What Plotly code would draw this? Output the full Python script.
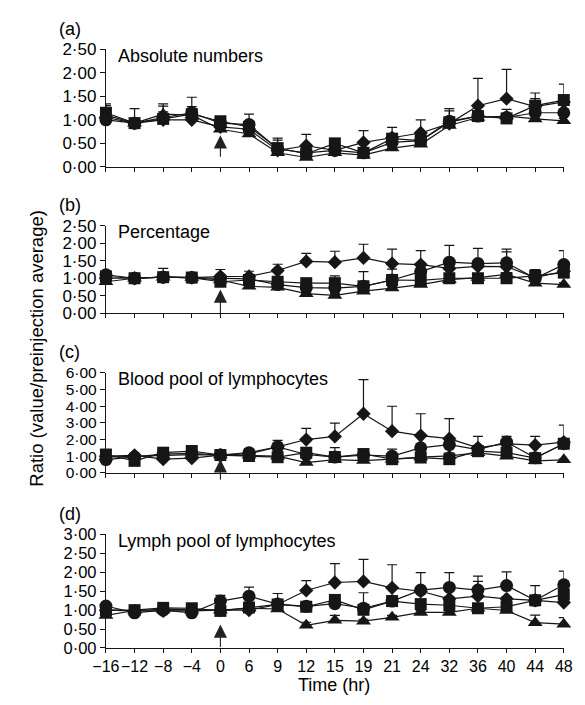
import plotly.graph_objects as go

# ---------------- data ----------------
time_labels = ["\u221216", "\u221212", "\u22128", "\u22124", "0", "6", "9", "12", "15",
               "19", "21", "24", "32", "36", "40", "44", "48"]

# (a) Absolute numbers
a_dia = [1.05, 0.93, 1.00, 1.00, 0.85, 0.80, 0.35, 0.45, 0.35, 0.52, 0.62, 0.72, 0.92, 1.30, 1.45, 1.28, 1.38]
a_sqr = [1.15, 0.93, 1.02, 1.12, 0.97, 0.85, 0.40, 0.28, 0.50, 0.30, 0.60, 0.56, 0.95, 1.08, 1.03, 1.30, 1.42]
a_cir = [1.00, 0.93, 1.05, 1.15, 0.93, 0.90, 0.38, 0.30, 0.35, 0.30, 0.52, 0.56, 0.97, 1.08, 1.05, 1.15, 1.15]
a_tri = [1.10, 0.93, 1.12, 1.10, 0.80, 0.70, 0.30, 0.20, 0.30, 0.25, 0.40, 0.48, 0.88, 1.05, 1.08, 1.02, 0.98]
a_dia_se = [0.25, 0.31, 0.29, 0.48, 0.05, 0.32, 0.22, 0.24, 0.05, 0.25, 0.22, 0.28, 0.27, 0.58, 0.62, 0.17, 0.12]
a_sqr_se = [0.19, 0.05, 0.32, 0.16, 0.05, 0.05, 0.21, 0.05, 0.05, 0.05, 0.05, 0.05, 0.29, 0.05, 0.19, 0.27, 0.34]
a_cir_se = [0.05, 0.05, 0.05, 0.05, 0.05, 0.05, 0.05, 0.05, 0.05, 0.05, 0.05, 0.05, 0.05, 0.05, 0.05, 0.05, 0.05]
a_tri_se = [0.05, 0.05, 0.05, 0.05, 0.05, 0.05, 0.05, 0.05, 0.05, 0.05, 0.05, 0.05, 0.05, 0.05, 0.05, 0.05, 0.05]

# (b) Percentage
b_dia = [1.00, 1.00, 1.03, 1.02, 1.05, 1.05, 1.22, 1.48, 1.46, 1.58, 1.42, 1.39, 1.28, 1.34, 1.33, 1.02, 1.20]
b_sqr = [1.05, 1.00, 1.03, 1.02, 0.90, 0.95, 0.90, 0.86, 0.86, 0.77, 0.95, 0.94, 1.00, 1.00, 1.00, 1.07, 1.16]
b_cir = [1.10, 1.00, 1.03, 1.02, 1.00, 0.98, 0.82, 0.73, 0.72, 0.77, 0.95, 1.19, 1.46, 1.42, 1.44, 1.00, 1.39]
b_tri = [0.90, 1.00, 1.03, 1.02, 0.95, 0.77, 0.74, 0.56, 0.51, 0.63, 0.72, 0.82, 0.96, 1.02, 1.11, 0.86, 0.82]
b_dia_se = [0.05, 0.05, 0.25, 0.05, 0.20, 0.15, 0.18, 0.23, 0.31, 0.39, 0.41, 0.40, 0.05, 0.05, 0.42, 0.05, 0.05]
b_sqr_se = [0.05, 0.05, 0.05, 0.05, 0.05, 0.05, 0.05, 0.05, 0.21, 0.05, 0.05, 0.05, 0.05, 0.05, 0.05, 0.18, 0.05]
b_cir_se = [0.05, 0.05, 0.05, 0.05, 0.05, 0.05, 0.05, 0.05, 0.05, 0.42, 0.31, 0.05, 0.48, 0.43, 0.39, 0.05, 0.40]
b_tri_se = [0.05, 0.05, 0.05, 0.05, 0.05, 0.05, 0.05, 0.05, 0.05, 0.05, 0.05, 0.05, 0.05, 0.05, 0.05, 0.05, 0.05]

# (c) Blood pool of lymphocytes
c_dia = [1.00, 1.05, 0.82, 0.88, 1.07, 1.15, 1.56, 2.00, 2.19, 3.55, 2.50, 2.24, 2.05, 1.50, 1.75, 1.66, 1.85]
c_sqr = [1.10, 0.72, 1.21, 1.31, 1.07, 1.01, 0.94, 1.21, 0.95, 1.13, 0.82, 0.92, 0.82, 1.30, 1.21, 0.88, 1.75]
c_cir = [0.80, 0.95, 1.12, 1.17, 1.07, 1.21, 1.56, 1.10, 0.95, 1.07, 1.00, 1.50, 1.70, 1.40, 1.85, 0.90, 1.75]
c_tri = [0.95, 1.00, 1.05, 1.10, 1.07, 1.05, 1.00, 0.62, 0.80, 0.74, 0.82, 0.95, 1.02, 1.20, 1.00, 0.72, 0.78]
c_dia_se = [0.05, 0.05, 0.05, 0.05, 0.05, 0.05, 0.39, 0.67, 0.79, 2.05, 1.50, 1.31, 1.21, 0.05, 0.05, 0.53, 1.02]
c_sqr_se = [0.05, 0.05, 0.05, 0.05, 0.05, 0.05, 0.05, 0.05, 0.05, 0.05, 0.05, 0.05, 0.05, 0.05, 0.05, 0.05, 0.05]
c_cir_se = [0.05, 0.05, 0.05, 0.05, 0.05, 0.25, 0.05, 0.05, 0.57, 0.05, 0.43, 0.05, 0.05, 0.79, 0.34, 0.05, 0.05]
c_tri_se = [0.05, 0.05, 0.05, 0.05, 0.05, 0.05, 0.05, 0.05, 0.05, 0.05, 0.05, 0.05, 0.18, 0.05, 0.05, 0.05, 0.05]

# (d) Lymph pool of lymphocytes
d_dia = [1.00, 0.98, 0.98, 0.98, 1.00, 1.00, 1.15, 1.52, 1.73, 1.76, 1.59, 1.50, 1.30, 1.37, 1.30, 1.26, 1.20]
d_sqr = [1.00, 1.00, 1.06, 1.05, 0.98, 1.07, 1.15, 1.09, 1.27, 1.01, 1.24, 1.16, 1.13, 1.05, 1.09, 1.26, 1.41]
d_cir = [1.11, 0.93, 1.00, 0.93, 1.24, 1.37, 1.16, 1.10, 1.17, 1.05, 1.24, 1.53, 1.60, 1.53, 1.65, 1.26, 1.67]
d_tri = [0.86, 0.99, 1.02, 1.00, 1.00, 1.05, 1.03, 0.60, 0.73, 0.71, 0.81, 0.94, 0.94, 1.05, 0.99, 0.67, 0.63]
d_dia_se = [0.05, 0.05, 0.05, 0.05, 0.05, 0.05, 0.05, 0.26, 0.50, 0.58, 0.61, 0.05, 0.05, 0.39, 0.05, 0.05, 0.05]
d_sqr_se = [0.05, 0.05, 0.05, 0.05, 0.05, 0.05, 0.29, 0.05, 0.05, 0.45, 0.06, 0.05, 0.05, 0.05, 0.05, 0.39, 0.05]
d_cir_se = [0.05, 0.05, 0.05, 0.05, 0.15, 0.24, 0.05, 0.05, 0.05, 0.05, 0.05, 0.46, 0.39, 0.37, 0.36, 0.05, 0.36]
d_tri_se = [0.05, 0.05, 0.05, 0.05, 0.05, 0.05, 0.05, 0.08, 0.13, 0.05, 0.05, 0.05, 0.05, 0.05, 0.05, 0.20, 0.17]

panel_titles = ["Absolute numbers", "Percentage", "Blood pool of lymphocytes", "Lymph pool of lymphocytes"]
panel_letters = ["(a)", "(b)", "(c)", "(d)"]
panel_ymax = [2.5, 2.5, 6.0, 3.0]
panel_yticks = [[0, 0.5, 1, 1.5, 2, 2.5], [0, 0.5, 1, 1.5, 2, 2.5],
                [0, 1, 2, 3, 4, 5, 6], [0, 0.5, 1, 1.5, 2, 2.5, 3]]
injection_time = "0"
arrow_tip = [0.67, 0.68, 0.82, 0.62]   # arrow head position (data units) at time 0
arrow_len = [23, 28, 22, 24]           # arrow length in px

panels = [
    [(a_dia, a_dia_se), (a_sqr, a_sqr_se), (a_cir, a_cir_se), (a_tri, a_tri_se)],
    [(b_dia, b_dia_se), (b_sqr, b_sqr_se), (b_cir, b_cir_se), (b_tri, b_tri_se)],
    [(c_dia, c_dia_se), (c_sqr, c_sqr_se), (c_cir, c_cir_se), (c_tri, c_tri_se)],
    [(d_dia, d_dia_se), (d_sqr, d_sqr_se), (d_cir, d_cir_se), (d_tri, d_tri_se)],
]

# ---------------- styles ----------------
W, H = 585, 705
FONT = "Liberation Sans, Arial, Helvetica, sans-serif"
INK = "#161616"
symbols = ["diamond", "square", "circle", "triangle-up"]
msizes = [11, 12, 13, 13]
ytick_size = [17, 17, 15.5, 16.5]

x_left, x_right = 95.7, 572.3
panel_px = [(41.3, 162.3), (222.7, 312.7), (374.0, 476.7), (540.0, 656.7)]
x_dom = [x_left / W, x_right / W]
inj_idx = time_labels.index(injection_time)

fig = go.Figure()
layout = dict(
    width=W, height=H, margin=dict(l=0, r=0, t=0, b=0),
    paper_bgcolor="white", plot_bgcolor="white",
    font=dict(family=FONT, color="black", size=17),
    showlegend=False,
)
annotations = []

for k in range(4):
    n = k + 1
    xa = "x" if n == 1 else f"x{n}"
    ya = "y" if n == 1 else f"y{n}"
    for s, (vals, se) in enumerate(panels[k]):
        fig.add_trace(go.Scatter(
            x=time_labels, y=vals, xaxis=xa, yaxis=ya,
            mode="lines+markers", cliponaxis=False,
            line=dict(color=INK, width=1.2),
            marker=dict(symbol=symbols[s], size=msizes[s], color=INK,
                        line=dict(width=0)),
            error_y=dict(type="data", array=se, arrayminus=[0] * len(se),
                         symmetric=False, color=INK, thickness=1.2, width=5),
        ))
    top, bot = panel_px[k]
    y_dom = [(H - bot) / H, (H - top) / H]
    layout[f"xaxis{'' if n == 1 else n}"] = dict(
        domain=x_dom, anchor=ya, type="category", range=[0, 16],
        showline=True, linecolor=INK, linewidth=1.2, mirror=False,
        ticks="outside", ticklen=4, tickwidth=1.1, tickcolor=INK,
        showgrid=False, zeroline=False, tickangle=0,
        showticklabels=(k == 3), tickfont=dict(size=16, family=FONT),
    )
    # second axis so that the x ticks cross the axis line
    layout[f"xaxis{n + 4}"] = dict(
        domain=x_dom, anchor=ya, overlaying=xa, type="linear", range=[0, 16],
        tick0=0, dtick=1, showline=False, ticks="inside", ticklen=3,
        tickwidth=1.1, tickcolor=INK, showticklabels=False, showgrid=False,
        zeroline=False,
    )
    layout[f"yaxis{'' if n == 1 else n}"] = dict(
        domain=y_dom, anchor=xa, range=[0, panel_ymax[k]],
        tickvals=panel_yticks[k],
        ticktext=[f"{v:.2f}".replace(".", "\u00b7") for v in panel_yticks[k]],
        showline=True, linecolor=INK, linewidth=1.2,
        ticks="outside", ticklen=5, tickwidth=1.1, tickcolor=INK,
        showgrid=False, zeroline=False,
        tickfont=dict(size=ytick_size[k], family=FONT),
    )
    # panel letter
    annotations.append(dict(
        text=panel_letters[k], xref="paper", yref="paper",
        x=45 / W, y=(H - (top - 21)) / H, xanchor="left", yanchor="middle",
        showarrow=False, font=dict(size=18, family=FONT, color="black"),
    ))
    # panel title
    annotations.append(dict(
        text=panel_titles[k], xref="paper", yref="paper",
        x=106 / W, y=(H - (top + 6.5)) / H, xanchor="left", yanchor="middle",
        showarrow=False, font=dict(size=18, family=FONT, color="black"),
    ))
    # injection arrow
    annotations.append(dict(
        x=inj_idx, y=arrow_tip[k], xref=xa, yref=ya,
        ax=0, ay=arrow_len[k], axref="pixel", ayref="pixel",
        showarrow=True, arrowhead=2, arrowsize=2.4, arrowwidth=1.1,
        arrowcolor="#222", text="",
    ))

annotations.append(dict(
    text="Ratio (value/preinjection average)", xref="paper", yref="paper",
    x=22.5 / W, y=(H - 348.5) / H, xanchor="center", yanchor="middle",
    textangle=-90, showarrow=False, font=dict(size=18.5, family=FONT, color="black"),
))
annotations.append(dict(
    text="Time (hr)", xref="paper", yref="paper",
    x=333.5 / W, y=(H - 695) / H, xanchor="center", yanchor="middle",
    showarrow=False, font=dict(size=18, family=FONT, color="black"),
))

layout["annotations"] = annotations
fig.update_layout(**layout)
fig.write_html("out.html")
